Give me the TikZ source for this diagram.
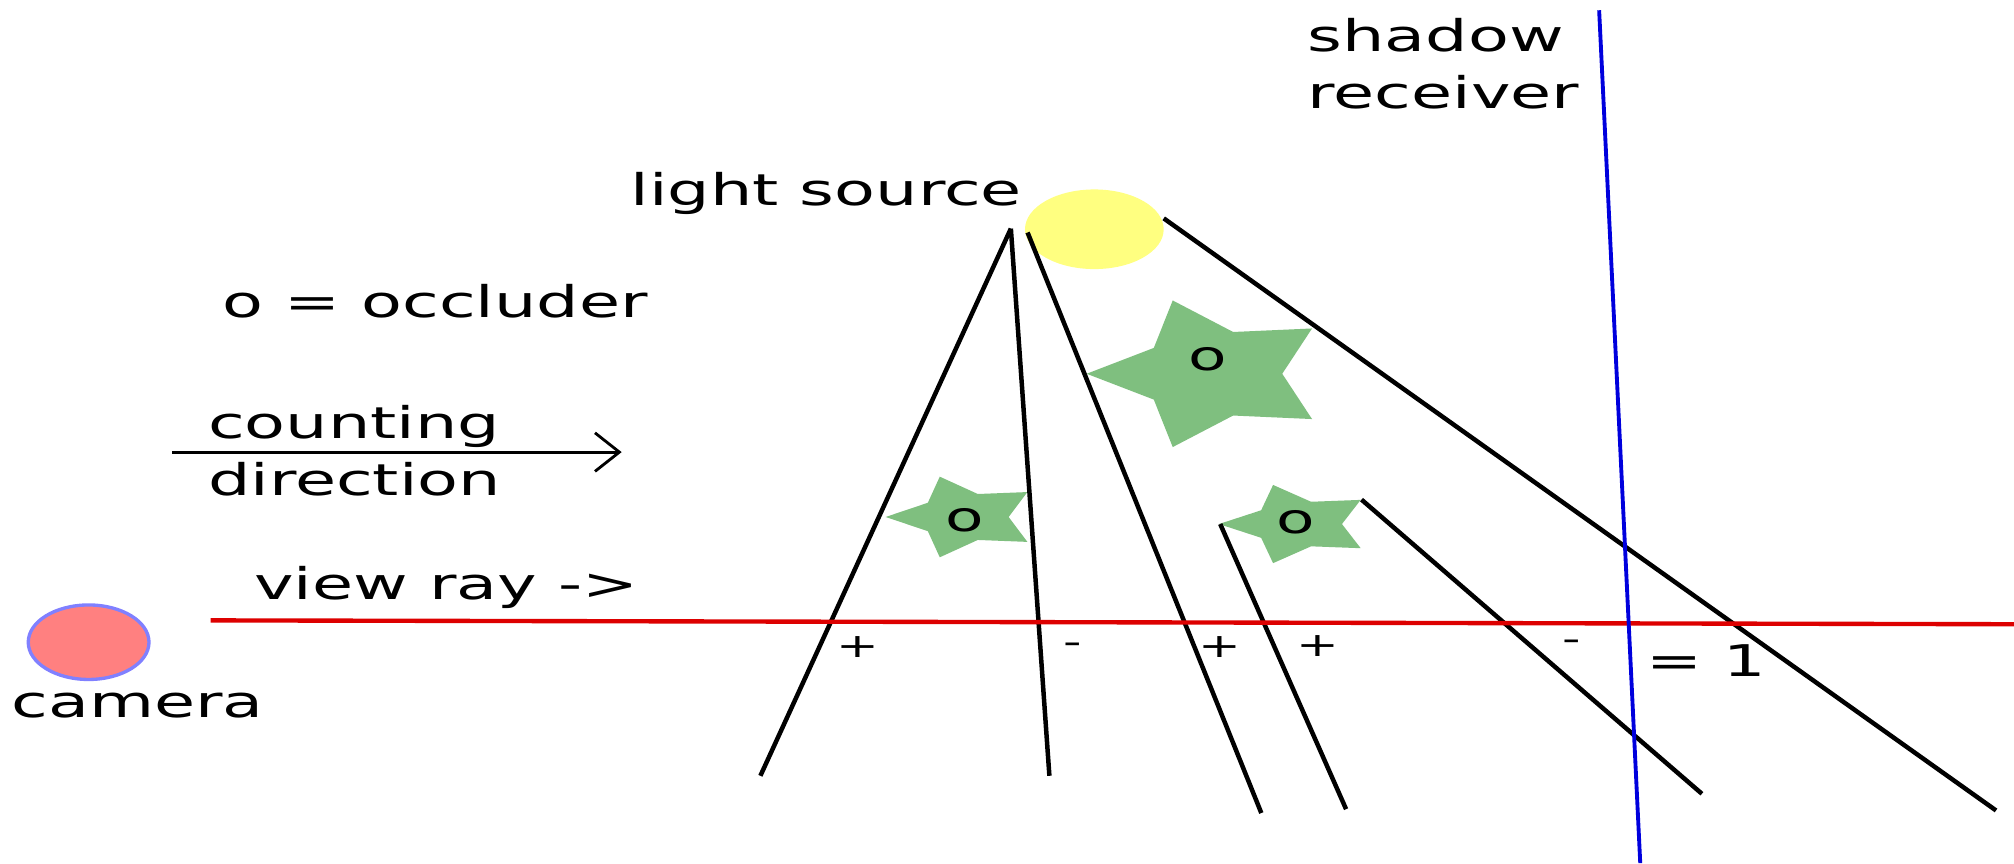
\documentclass[tikz,border=0pt]{standalone}
\usepackage{fontspec}
\setmainfont{DejaVu Sans}
\newfontfamily\widefont[FakeStretch=1.53]{DejaVu Sans}
\usetikzlibrary{arrows.meta,shapes.geometric}
\definecolor{occgreen}{RGB}{127,191,127}
\definecolor{lightyellow}{RGB}{255,255,128}
\definecolor{camfill}{RGB}{255,128,128}
\definecolor{camedge}{RGB}{128,128,255}
\definecolor{rayred}{RGB}{221,0,0}
\definecolor{recblue}{RGB}{0,0,221}
\newcommand{\occstar}[7]{%
  \begin{scope}[shift={(#1,#2)},xscale=#3,yscale=#4]
    \fill[occgreen] (180:1) -- (144:0.57) -- (108:1) -- (72:0.57) -- (36:1) -- (0:0.57)
      -- (324:1) -- (288:0.57) -- (252:1) -- (216:0.57) -- cycle;
  \end{scope}
  \node[occlabel] (#5) at (#6,#7) {o};}
\begin{document}
\begin{tikzpicture}[x=0.5pt,y=-0.5pt,
  lbl/.style={inner sep=0pt,outer sep=0pt,anchor=base west,align=left,
    font=\widefont\fontsize{17}{22.25}\selectfont},
  sign/.style={inner sep=0pt,outer sep=0pt,anchor=center,
    font=\widefont\fontsize{13}{13}\selectfont},
  occlabel/.style={inner sep=0pt,outer sep=0pt,anchor=center,
    font=\widefont\fontsize{16}{16}\selectfont},
  shadowline/.style={line width=1.75pt,black},
  ray/.style={line width=1.7pt,rayred},
  receiver/.style={line width=1.5pt,recblue}]
\useasboundingbox (0,0) rectangle (1568,672);
\fill[white] (0,0) rectangle (1568,672);

% occluders
\occstar{943}{291}{97}{60}{o1}{940}{280}
\occstar{750.5}{402.5}{61}{33}{o2}{751}{405}
\occstar{1010}{408}{61}{32}{o3}{1009}{407}

% light source and camera
\node[ellipse,fill=lightyellow,minimum width=54pt,minimum height=31pt,inner sep=0pt] (light) at (852,178.5) {};
\node[ellipse,fill=camfill,draw=camedge,line width=1.3pt,minimum width=47pt,minimum height=29pt,inner sep=0pt] (cam) at (69,500) {};

% coordinates
\coordinate (ls1) at (787,178);
\coordinate (ls2) at (800,181);
\coordinate (ls3) at (906,170);
\coordinate (b1) at (592,604);
\coordinate (b2) at (817,604);
\coordinate (b3) at (982,633);
\coordinate (b4) at (1554,631);
\coordinate (s2l) at (950,408);
\coordinate (s2r) at (1060,389);
\coordinate (b5) at (1048,630);
\coordinate (b6) at (1325,618);
\coordinate (rayL) at (164,483);
\coordinate (rayR) at (1568,486);
\coordinate (recT) at (1245,8);
\coordinate (recB) at (1277,672);
\coordinate (arrL) at (134,352);
\coordinate (arrR) at (484,352);

% shadow volume edges
\draw[shadowline] (ls1) -- (b1);
\draw[shadowline] (ls1) -- (b2);
\draw[shadowline] (ls2) -- (b3);
\draw[shadowline] (ls3) -- (b4);
\draw[shadowline] (s2l) -- (b5);
\draw[shadowline] (s2r) -- (b6);

% view ray and receiver
\draw[ray] (rayL) -- (rayR);
\draw[receiver] (recT) -- (recB);

% counting direction arrow
\draw[line width=1.1pt,-{Straight Barb[length=9.5pt,width=15pt,line width=1.1pt]}] (arrL) -- (arrR);

% labels (base anchor = baseline of the last line)
\node[lbl] (tshadow) at (1018,84.5) {shadow\\receiver};
\node[lbl] (tlight) at (491,160) {light source};
\node[lbl] (tocc) at (173,247) {o = occluder};
\node[lbl] (tcount) at (162,386) {counting\\direction};
\node[lbl] (tview) at (198,467) {view ray ->};
\node[lbl] (tcam) at (9,559) {camera};

% signs
\node[sign] (p1) at (668,504) {+};
\node[sign] (m1) at (835,505) {-};
\node[sign] (p2) at (950,504) {+};
\node[sign] (p3) at (1026,503) {+};
\node[sign] (m2) at (1224,502) {-};
\node[lbl] (eq) at (1282,527) {= 1};
\end{tikzpicture}
\end{document}
